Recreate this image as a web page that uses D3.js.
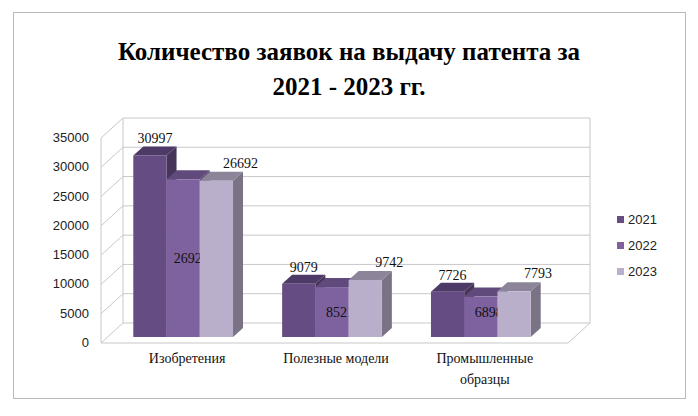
<!DOCTYPE html><html><head><meta charset="utf-8"><script src="https://cdn.jsdelivr.net/npm/d3@7"></script>
<style>body{margin:0;background:#fff}</style></head><body><svg id="c" width="698" height="416"></svg><script>
const categories=["Изобретения","Полезные модели","Промышленные образцы"];
const series=["2021","2022","2023"];
const v2021=[30997,9079,7726];
const v2022=[26924,8521,6898];
const v2023=[26692,9742,7793];
const ticks=[0,5000,10000,15000,20000,25000,30000,35000];
const vals=[v2021,v2022,v2023];
const colors=["#654c82","#7e62a0","#b9afcb"];
const tops=["#4e3a66","#5f4a7b","#8c8499"];
const sides=["#463459","#5a466f","#7a7285"];
const svg=d3.select("#c");
svg.append("rect").attr("x",13.5).attr("y",12.5).attr("width",672).attr("height",386).attr("fill","#fff").attr("stroke","#bbb");
const y=d3.scaleLinear().domain([0,35000]).range([343,138]);
const DX=22,DY=-20,L=101,R=568;
const g=svg.append("g");
// walls
ticks.forEach(t=>{const yy=y(t);
 g.append("path").attr("d",`M${L},${yy}L${L+DX},${yy+DY}L${R+DX},${yy+DY}`).attr("fill","none").attr("stroke","#c8c8c8");
});
g.append("path").attr("d",`M${L},${y(0)}L${R},${y(0)}L${R+DX},${y(0)+DY}`).attr("fill","none").attr("stroke","#c8c8c8");
g.append("line").attr("x1",L).attr("x2",L).attr("y1",y(0)).attr("y2",y(35000)).attr("stroke","#c8c8c8");
g.append("line").attr("x1",L+DX).attr("x2",L+DX).attr("y1",y(0)+DY).attr("y2",y(35000)+DY).attr("stroke","#c8c8c8");
g.append("line").attr("x1",R+DX).attr("x2",R+DX).attr("y1",y(0)+DY).attr("y2",y(35000)+DY).attr("stroke","#c8c8c8");
g.selectAll("text.t").data(ticks).join("text").attr("x",L-12).attr("y",t=>y(t)+4).attr("text-anchor","end")
 .attr("font-family","Liberation Sans").attr("font-size",13).attr("fill","#222").text(d=>d);
const x0=d3.scaleBand().domain(categories).range([108,556]).paddingInner(0.33).paddingOuter(0.17);
const x1=d3.scaleBand().domain(series).range([0,x0.bandwidth()]);
const by=v=>y(v)-6, bdx=10, bdy=-9;
categories.forEach((c,ci)=>{series.forEach((s,si)=>{
 const v=vals[si][ci], xa=x0(c)+x1(s), w=x1.bandwidth(), yt=by(v), yb=by(0);
 g.append("path").attr("d",`M${xa+w},${yb}L${xa+w+bdx},${yb+bdy}L${xa+w+bdx},${yt+bdy}L${xa+w},${yt}Z`).attr("fill",sides[si]);
 g.append("path").attr("d",`M${xa},${yt}L${xa+bdx},${yt+bdy}L${xa+w+bdx},${yt+bdy}L${xa+w},${yt}Z`).attr("fill",tops[si]);
 g.append("rect").attr("x",xa).attr("y",yt).attr("width",w).attr("height",yb-yt).attr("fill",colors[si]);
 let lx=xa+w/2, ly;
 if(si==0){lx=xa+w/2+5;ly=yt-12;} else if(si==1){lx=xa+w/2+8;ly=(yt+yb)/2+5;if(ci>0)ly=yb-20;} else {lx=xa+w/2+24;ly=yt-13;}
 g.append("text").attr("x",lx).attr("y",ly).attr("text-anchor","middle").attr("font-family","Liberation Serif").attr("font-size",14).attr("fill","#111").text(v);
});
 const words=c==="Промышленные образцы"?["Промышленные","образцы"]:[c];
 words.forEach((w,i)=>g.append("text").attr("x",x0(c)+x0.bandwidth()/2+4).attr("y",363+i*21).attr("text-anchor","middle").attr("font-family","Liberation Serif").attr("font-size",14).attr("fill","#111").text(w));
});
svg.append("text").attr("x",349).attr("y",60).attr("text-anchor","middle").attr("font-family","Liberation Serif").attr("font-weight","bold").attr("font-size",25).text("Количество заявок на выдачу патента за");
svg.append("text").attr("x",349).attr("y",95).attr("text-anchor","middle").attr("font-family","Liberation Serif").attr("font-weight","bold").attr("font-size",25).text("2021 - 2023 гг.");
series.forEach((s,i)=>{const yy=221+i*26;
 svg.append("rect").attr("x",617).attr("y",yy-5).attr("width",7).attr("height",7).attr("fill",colors[i]);
 svg.append("text").attr("x",628).attr("y",yy+3).attr("font-family","Liberation Sans").attr("font-size",13).attr("fill","#222").text(s);
});
</script></body></html>
